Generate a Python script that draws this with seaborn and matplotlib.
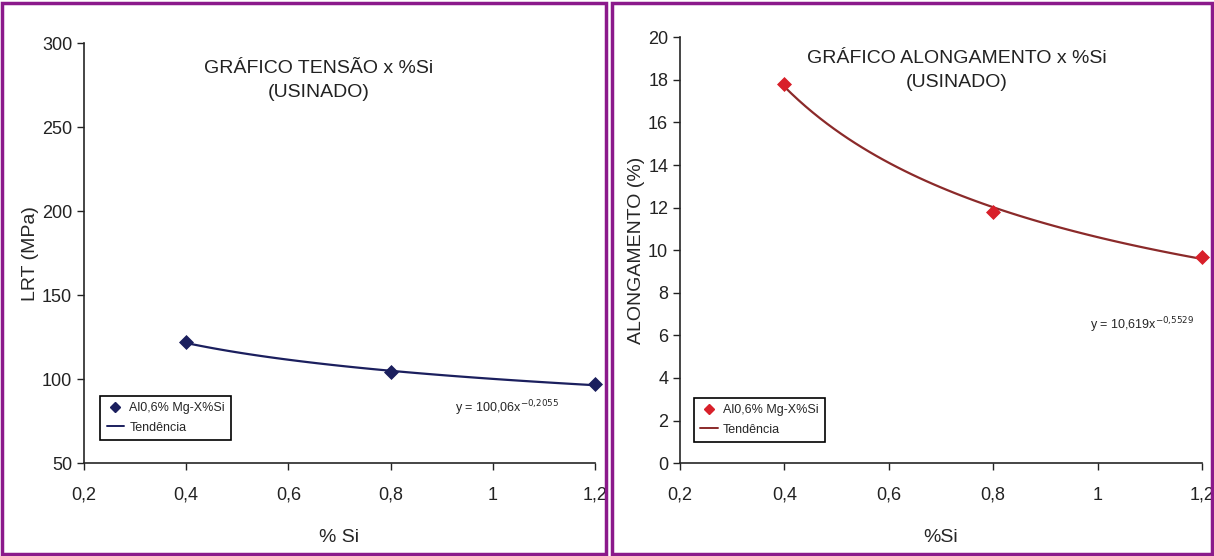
import numpy as np
import pandas as pd
import seaborn as sns
from matplotlib import pyplot as plt
from matplotlib.lines import Line2D
from matplotlib.patches import Rectangle

si = [0.4, 0.8, 1.2]
lrt = [122, 104, 97]
along = [17.8, 11.8, 9.7]
xticks = [0.2, 0.4, 0.6, 0.8, 1.0, 1.2]
xticklabels = ["0,2", "0,4", "0,6", "0,8", "1", "1,2"]
serie = "Al0,6% Mg-X%Si"
tend = "Tendência"

sns.set_style("ticks")
plt.rcParams["font.family"] = ["Liberation Sans Narrow", "Liberation Sans", "DejaVu Sans"]

fig = plt.figure(figsize=(12.14, 5.56), dpi=100)
fig.patch.set_facecolor("white")

# purple panel borders
for x0, w in [(0.002, 0.497), (0.504, 0.494)]:
    fig.add_artist(Rectangle((x0, 0.004), w, 0.991, transform=fig.transFigure,
                             fill=False, edgecolor="#8b1a8b", linewidth=2.5))


def power_fit(x, y):
    b, loga = np.polyfit(np.log(x), np.log(y), 1)
    return np.exp(loga), b


def panel(ax, y, color, line_color, ylim, yticks, ylabel, xlabel, title, title_xy, eq, eq_xy, leg_xy):
    df = pd.DataFrame({"si": si, "v": y})
    a, b = power_fit(np.array(si), np.array(y))
    xs = np.linspace(min(si), max(si), 60)
    trend = pd.DataFrame({"si": xs, "v": a * xs ** b})
    sns.lineplot(data=trend, x="si", y="v", ax=ax, color=line_color, linewidth=1.6)
    sns.scatterplot(data=df, x="si", y="v", ax=ax, color=color, marker="D", s=50,
                    edgecolor=color, zorder=5, clip_on=False)
    ax.set_xlim(0.2, 1.2)
    ax.set_ylim(*ylim)
    ax.set_xticks(xticks)
    ax.set_xticklabels(xticklabels)
    ax.set_yticks(yticks)
    ax.tick_params(labelsize=13, length=5, width=1, colors="#222222")
    ax.tick_params(axis="x", pad=12)
    ax.set_xlabel(xlabel, fontsize=14, labelpad=18)
    ax.set_ylabel(ylabel, fontsize=14, labelpad=2)
    sns.despine(ax=ax)
    for s in ["left", "bottom"]:
        ax.spines[s].set_linewidth(1.2)
    ax.text(title_xy[0], title_xy[1], title, transform=ax.transAxes, ha="center", va="top",
            fontsize=14, linespacing=1.5, color="#222222")
    ax.text(eq_xy[0], eq_xy[1], eq, transform=ax.transAxes, ha="right", va="center",
            fontsize=9)
    handles = [Line2D([], [], marker="D", color=color, linestyle="none", markersize=5),
               Line2D([], [], color=line_color, linewidth=1.4)]
    leg = ax.legend(handles, [serie, tend], loc="lower left", bbox_to_anchor=leg_xy,
                    frameon=True, fancybox=False, framealpha=1, edgecolor="black",
                    fontsize=9, handlelength=1.4, borderpad=0.5, labelspacing=0.6,
                    handletextpad=0.4)
    leg.get_frame().set_linewidth(1.2)


ax1 = fig.add_axes([0.0692, 0.167, 0.421, 0.755])
panel(ax1, lrt, "#1b1f5e", "#1b1f5e", (50, 300), [50, 100, 150, 200, 250, 300],
      "LRT (MPa)", "% Si", "GRÁFICO TENSÃO x %Si\n(USINADO)", (0.46, 0.96),
      r"y = 100,06x$^{-0{,}2055}$", (0.93, 0.13), (0.02, 0.04))

ax2 = fig.add_axes([0.5601, 0.167, 0.430, 0.766])
panel(ax2, along, "#d8202a", "#8b2a2a", (0, 20), list(range(0, 21, 2)),
      "ALONGAMENTO (%)", "%Si", "GRÁFICO ALONGAMENTO x %Si\n(USINADO)", (0.53, 0.97),
      r"y = 10,619x$^{-0{,}5529}$", (0.985, 0.325), (0.015, 0.035))

fig.savefig("out.png", dpi=100, facecolor="white")
